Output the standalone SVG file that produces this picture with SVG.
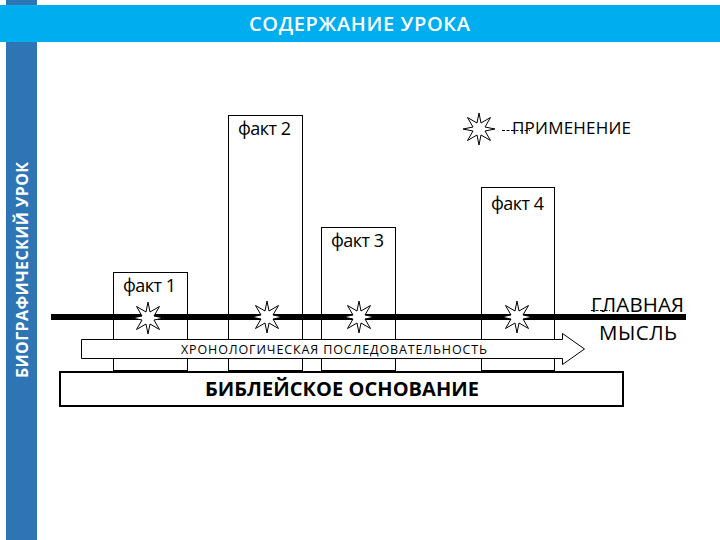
<svg xmlns="http://www.w3.org/2000/svg" xmlns:xlink="http://www.w3.org/1999/xlink" width="720" height="540" viewBox="0 0 720 540">
<style>
text{font-family:"Open Sans","Noto Sans","Liberation Sans",sans-serif;fill:#000}
.box{fill:#fff;stroke:#000;stroke-width:1}
.fact{font-size:18px}
.star{fill:#fff;stroke:#000;stroke-width:1}
.dash{fill:none;stroke:#000;stroke-width:1;stroke-dasharray:3 1.5}
</style>
<defs>
<polygon id="s" class="star" points="0,-16 2,-6 11.500,-11.500 6,-2 16,0 6,2 11.500,11.500 2,6 0,16 -2,6 -11.500,11.500 -6,2 -16,0 -6,-2 -11.500,-11.500 -2,-6"/>
</defs>
<rect width="720" height="540" fill="#fff"/>
<rect id="side" x="6" y="0" width="31" height="540" fill="#2e75b6"/>
<rect id="header" x="0" y="5" width="720" height="37" fill="#00aeef"/>
<text x="249" y="31" font-size="20" font-weight="600" textLength="221" style="fill:#fff">СОДЕРЖАНИЕ УРОКА</text>
<text transform="translate(28 378) rotate(-90)" font-size="16" font-weight="700" textLength="216" style="fill:#fff">БИОГРАФИЧЕСКИЙ УРОК</text>
<g id="fact1"><rect class="box" x="113.500" y="272.500" width="74" height="98"/><text class="fact" x="123" y="292" textLength="53">факт 1</text></g>
<g id="fact2"><rect class="box" x="228.500" y="115.500" width="74" height="255"/><text class="fact" x="238" y="135" textLength="53">факт 2</text></g>
<g id="fact3"><rect class="box" x="321.500" y="227.500" width="74" height="143"/><text class="fact" x="331" y="247" textLength="53">факт 3</text></g>
<g id="fact4"><rect class="box" x="481.500" y="187.500" width="73" height="183"/><text class="fact" x="491" y="210" textLength="53">факт 4</text></g>
<g id="connectors">
<line x1="51" y1="317" x2="686" y2="317" stroke="#000" stroke-width="6"/>
<path class="dash" d="M502 130.500H530M591 310.500H610M132 317.500H140M278 317.500H286M345 317.500H352"/>
</g>
<g id="arrow"><polygon points="81.500,339.500 562.500,339.500 562.500,333.500 584.500,349 562.500,364.500 562.500,358.500 81.500,358.500" fill="#fff" stroke="#000"/><text x="181" y="354" font-size="12.500" textLength="306">ХРОНОЛОГИЧЕСКАЯ ПОСЛЕДОВАТЕЛЬНОСТЬ</text></g>
<g id="base"><rect x="60" y="372" width="563" height="34" fill="#fff" stroke="#000" stroke-width="2"/><text x="205" y="396" font-size="20" font-weight="700" textLength="274">БИБЛЕЙСКОЕ ОСНОВАНИЕ</text></g>
<g id="star1"><use xlink:href="#s" href="#s" x="148" y="318"/></g>
<g id="star2"><use xlink:href="#s" href="#s" x="267" y="317"/></g>
<g id="star3"><use xlink:href="#s" href="#s" x="359" y="317"/></g>
<g id="star4"><use xlink:href="#s" href="#s" x="517" y="317"/></g>
<g id="star5"><use xlink:href="#s" href="#s" x="479" y="129"/></g>
<text x="512" y="134" font-size="17" textLength="119">ПРИМЕНЕНИЕ</text>
<g id="main"><text x="591" y="312" font-size="20.500" textLength="93">ГЛАВНАЯ</text><text x="599" y="340" font-size="20.500" textLength="78">МЫСЛЬ</text></g>
</svg>
